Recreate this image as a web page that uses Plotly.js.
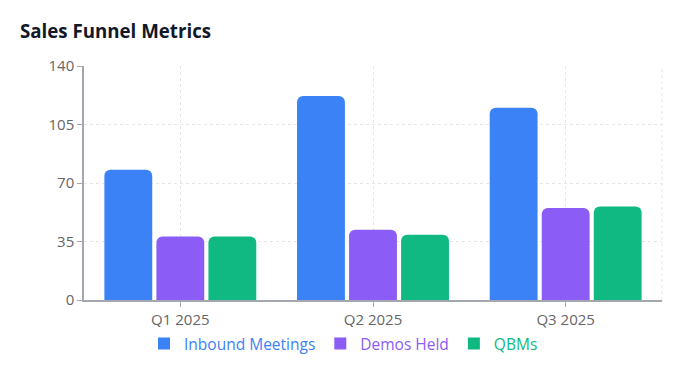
<!DOCTYPE html>
<html>
<head>
<meta charset="utf-8">
<script src="https://cdn.plot.ly/plotly-3.0.1.min.js"></script>
<style>html,body{margin:0;padding:0;background:#fff;}#chart{width:687px;height:374px;}</style>
</head>
<body>
<div id="chart"></div>
<script>
const categories = ["Q1 2025", "Q2 2025", "Q3 2025"];
const inboundMeetings = [78, 122, 115];
const demosHeld = [38, 42, 55];
const qbms = [38, 39, 56];
const seriesNames = ["Inbound Meetings", "Demos Held", "QBMs"];
const seriesColors = ["#3b82f6", "#8b5cf6", "#10b981"];
const yTicks = [0, 35, 70, 105, 140];

const seriesValues = [inboundMeetings, demosHeld, qbms];
const barTraces = seriesValues.map((vals, i) => ({
  type: "bar",
  x: categories,
  y: vals,
  name: seriesNames[i],
  showlegend: false,
  marker: {color: seriesColors[i], cornerradius: 6},
  hoverinfo: "x+y"
}));
// legend-only entries (square swatches) on a hidden overlay axis pair
const legendTraces = seriesNames.map((n, i) => ({
  type: "bar",
  x: [categories[0]],
  y: [null],
  xaxis: "x2", yaxis: "y2",
  name: '<span style="color:' + seriesColors[i] + '">' + n + '</span>',
  marker: {color: seriesColors[i]},
  hoverinfo: "skip"
}));

const gridColor = "#e6e6e6";
const axisColor = "#a3a7ae";
const layout = {
  width: 687, height: 374,
  margin: {l: 84, r: 25, t: 66, b: 74, autoexpand: false},
  paper_bgcolor: "#fff", plot_bgcolor: "#fff",
  font: {family: "Open Sans, Noto Sans, sans-serif", size: 15, color: "#666"},
  title: {
    text: "<b>Sales Funnel Metrics</b>",
    font: {size: 18.7, color: "#111827", family: "Open Sans, Noto Sans, sans-serif"},
    xref: "container", yref: "container",
    x: 20/687, xanchor: "left",
    y: 1 - 31/374, yanchor: "middle"
  },
  barmode: "group",
  bargap: 0.19,
  bargroupgap: 0.08,
  xaxis: {
    type: "category",
    showgrid: true, gridcolor: gridColor, griddash: "dot", gridwidth: 1,
    showline: true, linecolor: axisColor, linewidth: 1.5,
    ticks: "outside", ticklen: 5, tickcolor: axisColor,
    tickfont: {size: 15, color: "#666"},
    fixedrange: true
  },
  yaxis: {
    range: [0, 140],
    tickvals: yTicks,
    showgrid: true, gridcolor: gridColor, griddash: "dot", gridwidth: 1,
    zeroline: false,
    showline: true, linecolor: axisColor, linewidth: 1.5,
    ticks: "outside", ticklen: 5, tickcolor: axisColor,
    tickfont: {size: 15, color: "#666"},
    fixedrange: true
  },
  xaxis2: {overlaying: "x", visible: false, type: "category", fixedrange: true},
  yaxis2: {overlaying: "y", visible: false, range: [0, 1], fixedrange: true},
  shapes: [{
    type: "line", xref: "paper", yref: "paper",
    x0: 1, x1: 1, y0: 0, y1: 1,
    line: {color: gridColor, width: 1, dash: "dot"}
  }],
  legend: {
    orientation: "h",
    x: 0.449, xanchor: "center",
    y: -0.115, yanchor: "top",
    font: {size: 15.5},
    itemwidth: 30,
    tracegroupgap: 0
  },
  showlegend: true
};

Plotly.newPlot("chart", barTraces.concat(legendTraces), layout, {displayModeBar: false});
</script>
</body>
</html>
